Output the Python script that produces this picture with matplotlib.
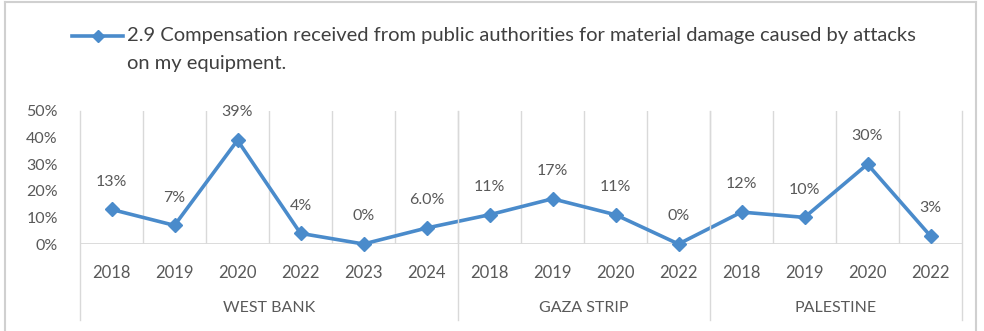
import matplotlib
matplotlib.use("Agg")
import matplotlib.pyplot as plt
from matplotlib.lines import Line2D

# ---- data ----
years = ["2018", "2019", "2020", "2022", "2023", "2024",
         "2018", "2019", "2020", "2022",
         "2018", "2019", "2020", "2022"]
groups = ["WEST BANK", "GAZA STRIP", "PALESTINE"]
group_sizes = [6, 4, 4]
values = [13, 7, 39, 4, 0, 6.0, 11, 17, 11, 0, 12, 10, 30, 3]
value_labels = ["13%", "7%", "39%", "4%", "0%", "6.0%", "11%", "17%", "11%",
                "0%", "12%", "10%", "30%", "3%"]
series_name = ("2.9 Compensation received from public authorities for material damage caused by attacks\n"
               "on my equipment.")
yticks = [0, 10, 20, 30, 40, 50]
ytick_labels = ["0%", "10%", "20%", "30%", "40%", "50%"]

W, H = 984, 331
LINE = "#4A8BCB"
GRID = "#D9D9D9"
TXT = "#595959"
FONT = "Lato"

def fx(x):
    return x / W

def fy(y):
    return 1 - y / H

fig = plt.figure(figsize=(W / 100, H / 100), dpi=100)
fig.patch.set_facecolor("white")

x0, x1 = 80, 962
ytop, ybot = 111, 244
ax = fig.add_axes([fx(x0), fy(ybot), fx(x1) - fx(x0), (ybot - ytop) / H])
n = len(values)
xs = list(range(n))
ax.set_xlim(-0.5, n - 0.5)
ax.set_ylim(0, 50)
for s in ax.spines.values():
    s.set_visible(False)
ax.axhline(0, color=GRID, lw=1.3, zorder=1)
for k in range(1, n):
    ax.axvline(k - 0.5, color=GRID, lw=1.0, zorder=0)

ax.plot(xs, values, color=LINE, lw=2.6, marker="D", markersize=7.5,
        markerfacecolor=LINE, markeredgecolor=LINE, clip_on=False, zorder=3)
for x, v, lab in zip(xs, values, value_labels):
    ax.annotate(lab, (x, v), xytext=(0, 20), textcoords="offset points",
                ha="center", va="center", fontsize=11.5, color=TXT, family=FONT)

ax.set_yticks(yticks)
ax.set_yticklabels(ytick_labels, fontsize=11.5, color=TXT, family=FONT)
ax.tick_params(axis="y", length=0, pad=16)
ax.set_xticks(xs)
ax.set_xticklabels(years, fontsize=12, color=TXT, family=FONT)
ax.tick_params(axis="x", length=0, pad=15)

# group labels and separators
cw = (x1 - x0) / n
start = 0
bounds = [0]
for g, size in zip(groups, group_sizes):
    cx = x0 + (start + size / 2) * cw
    fig.text(fx(cx), fy(307.5), g, ha="center", va="center", fontsize=11.5,
             color=TXT, family=FONT)
    start += size
    bounds.append(start)
for b in bounds:
    xx = x0 + b * cw
    fig.add_artist(Line2D([fx(xx), fx(xx)], [fy(ytop), fy(320)],
                          color=GRID, lw=1.0, transform=fig.transFigure))

# legend
fig.add_artist(Line2D([fx(72), fx(123)], [fy(36), fy(36)], color=LINE, lw=2.6,
                      transform=fig.transFigure))
fig.add_artist(Line2D([fx(97.5)], [fy(36)], color=LINE, marker="D", markersize=6,
                      transform=fig.transFigure))
fig.text(fx(127), fy(36), series_name.split("\n")[0], ha="left", va="center",
         fontsize=14.5, color="#404040", family=FONT)
fig.text(fx(127), fy(63), series_name.split("\n")[1], ha="left", va="center",
         fontsize=14.5, color="#404040", family=FONT)

# outer frame
for xs_, ys_ in [([5, 5], [2, 331]), ([5, 976], [2, 2]), ([976, 976], [2, 331])]:
    fig.add_artist(Line2D([fx(v) for v in xs_], [fy(v) for v in ys_],
                          color="#D0D0D0", lw=1.5, transform=fig.transFigure))

fig.savefig("out.png", dpi=100, facecolor="white")
